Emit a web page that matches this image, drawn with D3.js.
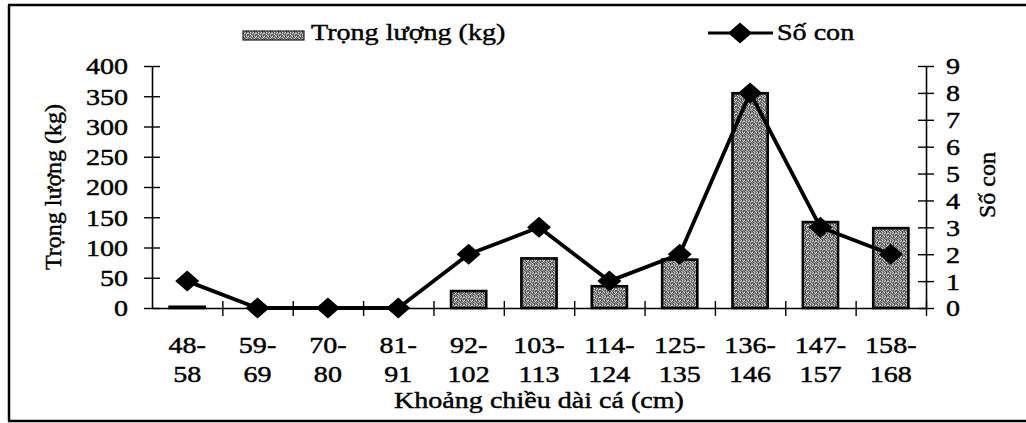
<!DOCTYPE html>
<html>
<head>
<meta charset="utf-8">
<script src="https://cdn.jsdelivr.net/npm/d3@7"></script>
<style>
  html, body { margin: 0; padding: 0; background: #fff; }
  svg { display: block; }
  text { font-family: "Liberation Serif", "Times New Roman", serif; fill: #000;
         stroke: #000; stroke-width: 0.45px; }
</style>
</head>
<body>
<svg id="chart" width="1026" height="423"></svg>
<script>
// Length classes (cm)
const categories = ["48-58", "59-69", "70-80", "81-91", "92-102", "103-113",
                    "114-124", "125-135", "136-146", "147-157", "158-168"];
// Total weight per class (kg) – bars, left axis
const weights = [2, 0, 0, 0, 28, 82, 36, 80, 355, 142, 132];
// Number of fish per class – line, right axis
const counts = [1, 0, 0, 0, 2, 3, 1, 2, 8, 3, 2];
// Tick values
const leftTicks = [0, 50, 100, 150, 200, 250, 300, 350, 400];
const rightTicks = [0, 1, 2, 3, 4, 5, 6, 7, 8, 9];

const svg = d3.select("#chart");
const plot = { left: 152, right: 926, top: 66, bottom: 308 };
const FS = 24;          // base font size
const SX = 1.17;        // horizontal glyph stretch

function stretch(sel, origin) {
  sel.style("transform-box", "fill-box")
     .style("transform-origin", origin)
     .style("transform", `scaleX(${SX})`);
}

// Grainy grey fill for the bars (fixed 8x8 speckle tile)
const tile = [
  "aKwaDwKa",
  "wDaKwaDw",
  "KawDaKwD",
  "aDKwaDaK",
  "wKaDwKwa",
  "DawKaDKw",
  "aKDwKawD",
  "KwaDwDKa"
];
const shade = { a: "#8e8e8e", K: "#3c3c3c", w: "#dcdcdc", D: "#666666" };
const defs = svg.append("defs");
const pat = defs.append("pattern").attr("id", "grain")
  .attr("patternUnits", "userSpaceOnUse").attr("width", 8).attr("height", 8);
tile.forEach((row, y) => row.split("").forEach((c, x) =>
  pat.append("rect").attr("x", x).attr("y", y).attr("width", 1).attr("height", 1)
    .attr("fill", shade[c])));

// Frame (top, left, bottom)
const frame = svg.append("g").attr("stroke", "#000").attr("stroke-width", 2.5);
frame.append("line").attr("x1", 8).attr("x2", 1026).attr("y1", 5).attr("y2", 5);
frame.append("line").attr("x1", 9).attr("x2", 9).attr("y1", 5).attr("y2", 421);
frame.append("line").attr("x1", 8).attr("x2", 1026).attr("y1", 421).attr("y2", 421);

// Scales
const x = d3.scaleBand().domain(categories)
  .range([plot.left, plot.right]).paddingInner(0.5).paddingOuter(0.25);
const xEdge = d3.scaleLinear().domain([0, categories.length])
  .range([plot.left, plot.right]);
const yL = d3.scaleLinear().domain([0, 400]).range([plot.bottom, plot.top]);
const yR = d3.scaleLinear().domain([0, 9]).range([plot.bottom, plot.top]);

// Bars
svg.append("g").selectAll("rect").data(weights).join("rect")
  .attr("x", (d, i) => x(categories[i]))
  .attr("width", x.bandwidth())
  .attr("y", d => yL(d))
  .attr("height", d => plot.bottom - yL(d))
  .attr("fill", "url(#grain)")
  .attr("stroke", "#000").attr("stroke-width", 2.6);

// X axis: ticks on class boundaries, crossing the baseline
const xAxis = svg.append("g").attr("transform", `translate(0,${plot.bottom})`)
  .call(d3.axisBottom(xEdge).tickValues(d3.range(1, categories.length + 1))
    .tickSize(0).tickFormat(""));
xAxis.select(".domain").attr("stroke-width", 1.6);
xAxis.selectAll(".tick line").attr("y1", -7).attr("y2", 8).attr("stroke-width", 1.4);

// X tick labels on two lines
const xl = svg.append("g").selectAll("text").data(categories).join("text")
  .attr("text-anchor", "middle").attr("font-size", FS)
  .attr("x", d => x(d) + x.bandwidth() / 2);
xl.append("tspan").attr("x", d => x(d) + x.bandwidth() / 2).attr("y", 353)
  .text(d => d.split("-")[0] + "-");
xl.append("tspan").attr("x", d => x(d) + x.bandwidth() / 2).attr("y", 382)
  .text(d => d.split("-")[1]);
stretch(xl, "center");

// Left axis
const left = svg.append("g").attr("transform", `translate(${plot.left},0)`)
  .call(d3.axisLeft(yL).tickValues(leftTicks).tickSize(0).tickFormat(d3.format("d")));
left.select(".domain").attr("stroke-width", 1.6);
left.selectAll(".tick line").attr("x1", -8).attr("x2", 8).attr("stroke-width", 1.4);
left.selectAll(".tick text").attr("x", -24).attr("dy", "0.33em")
  .attr("font-size", FS).attr("font-family", null);
stretch(left.selectAll(".tick text"), "right center");

// Right axis
const right = svg.append("g").attr("transform", `translate(${plot.right},0)`)
  .call(d3.axisRight(yR).tickValues(rightTicks).tickSize(0).tickFormat(d3.format("d")));
right.select(".domain").attr("stroke-width", 1.6);
right.selectAll(".tick line").attr("x1", -8).attr("x2", 8).attr("stroke-width", 1.4);
right.selectAll(".tick text").attr("x", 20).attr("dy", "0.33em")
  .attr("font-size", FS).attr("font-family", null);
stretch(right.selectAll(".tick text"), "left center");

// Count line with diamond markers
const cx = i => x(categories[i]) + x.bandwidth() / 2;
svg.append("path").datum(counts)
  .attr("d", d3.line().x((d, i) => cx(i)).y(d => yR(d)))
  .attr("fill", "none").attr("stroke", "#000").attr("stroke-width", 3.8)
  .attr("stroke-linejoin", "round");
const diamond = "M0,-10.5L12,0L0,10.5L-12,0Z";
svg.append("g").selectAll("path").data(counts).join("path")
  .attr("d", diamond)
  .attr("transform", (d, i) => `translate(${cx(i)},${yR(d)})`)
  .attr("fill", "#000");

// Axis titles
const xt = svg.append("text").attr("x", (plot.left + plot.right) / 2).attr("y", 408)
  .attr("text-anchor", "middle").attr("font-size", FS)
  .text("Khoảng chiều dài cá (cm)");
stretch(xt, "center");

svg.append("text").attr("transform", `translate(61,${(plot.top + plot.bottom) / 2}) rotate(-90)`)
  .attr("text-anchor", "middle").attr("font-size", FS)
  .text("Trọng lượng (kg)");
svg.append("text").attr("transform", `translate(995,185) rotate(-90)`)
  .attr("text-anchor", "middle").attr("font-size", FS)
  .text("Số con");

// Legend
const lg = svg.append("g");
lg.append("rect").attr("x", 243).attr("y", 31).attr("width", 61).attr("height", 9)
  .attr("fill", "url(#grain)").attr("stroke", "#222").attr("stroke-width", 1.2);
const lt1 = lg.append("text").attr("x", 311).attr("y", 40).attr("font-size", FS)
  .text("Trọng lượng (kg)");
stretch(lt1, "left center");
lg.append("line").attr("x1", 708).attr("x2", 773).attr("y1", 33).attr("y2", 33)
  .attr("stroke", "#000").attr("stroke-width", 3);
lg.append("path").attr("d", diamond).attr("transform", "translate(740,33)").attr("fill", "#000");
const lt2 = lg.append("text").attr("x", 777).attr("y", 40).attr("font-size", FS)
  .text("Số con");
stretch(lt2, "left center");
</script>
</body>
</html>
